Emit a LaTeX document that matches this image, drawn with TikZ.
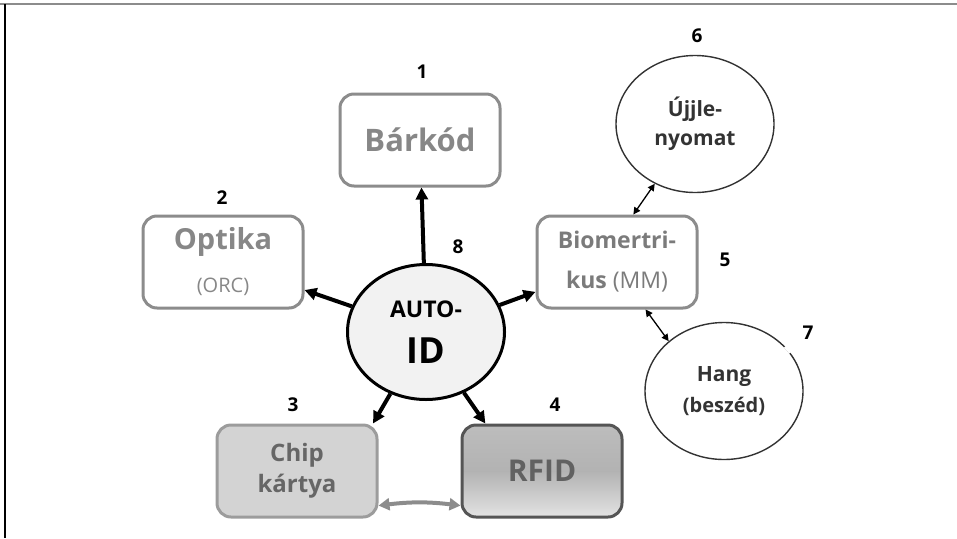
\documentclass[tikz,border=0pt]{standalone}
\usepackage{fontspec}
\setmainfont{Open Sans}
\usetikzlibrary{arrows.meta, shapes.geometric}
\definecolor{cbox}{HTML}{8C8C8C}
\definecolor{ctext}{HTML}{878787}
\definecolor{cbio}{HTML}{7B7B7B}
\definecolor{cchip}{HTML}{D3D3D3}
\definecolor{cchipline}{HTML}{9C9C9C}
\definecolor{cdark}{HTML}{333333}
\definecolor{cfid}{HTML}{555555}
\definecolor{ccore}{HTML}{F2F2F2}
\tikzset{
  every picture/.style={line width=1.2pt, x=1pt, y=-1pt},
  box/.style={draw=#1, rounded corners=14pt, align=center, line width=3pt, minimum width=160pt, minimum height=92pt, inner sep=2pt},
  box/.default=cbox,
  bubble/.style={ellipse, draw=cdark, line width=1.4pt, align=center, minimum width=158pt, minimum height=137pt, inner sep=0pt, text=cdark},
  arrow/.style={-{Triangle[length=12pt, width=12pt]}, line width=4pt},
  link/.style={{Triangle[length=7pt, width=7pt]}-{Triangle[length=7pt, width=7pt]}, line width=1.3pt},
  swap/.style={{Triangle[length=11pt, width=12pt]}-{Triangle[length=11pt, width=12pt]}, line width=4pt, draw=cbox},
  num/.style={font=\fontsize{19}{19}\selectfont\bfseries},
}

\begin{document}
\begin{tikzpicture}
  \useasboundingbox (0,0) rectangle (957,538);
  % frame
  \draw[cbox, line width=2.5pt] (0,4) -- (957,4);
  \draw[line width=1.4pt] (5,4) -- (5,538);
  % centre
  \node[ellipse, draw, fill=ccore, line width=3pt, minimum width=157pt, minimum height=135pt, align=center, inner sep=0pt, font=\fontsize{23}{46}\selectfont\bfseries] (auto) at (426,332) {AUTO-\\{\fontsize{36}{36}\selectfont ID}};
  % boxes
  \node[box, text=ctext, font=\fontsize{31}{36}\selectfont\bfseries] (bar) at (420,140) {Bárkód};
  \node[box, text=ctext, font=\fontsize{29}{43}\selectfont\bfseries] (opt) at (223,262) {Optika\\{\mdseries\fontsize{20}{20}\selectfont (ORC)}};
  \node[box, text=cbio, font=\fontsize{23}{40}\selectfont\bfseries] (bio) at (617,262) {Biomertri-\\kus {\mdseries (MM)}};
  \node[box=cchipline, fill=cchip, text=black!60, font=\fontsize{24}{31}\selectfont\bfseries] (chip) at (297,471) {Chip\\kártya};
  \node[box=cfid, top color=black!26, bottom color=black!11, middle color=black!30, text=black!62, font=\fontsize{30}{30}\selectfont\bfseries] (rfid) at (542,471) {RFID};
  % biometric subtypes
  \node[bubble, font=\fontsize{21}{29}\selectfont\bfseries] (fin) at (695,124) {Újjle-\\nyomat};
  \node[bubble, font=\fontsize{21}{31}\selectfont\bfseries] (hang) at (724,391) {Hang\\{\fontsize{20}{20}\selectfont (beszéd)}};
  \draw[white, line width=3pt] (hang.36) -- (hang.30);
  % numbers
  \node[num] (n1) at (422,72) {1};
  \node[num] (n2) at (222,198) {2};
  \node[num] (n3) at (293,405) {3};
  \node[num] (n4) at (555,405) {4};
  \node[num] (n5) at (725,260) {5};
  \node[num] (n6) at (697,36) {6};
  \node[num] (n7) at (808,333) {7};
  \node[num] (n8) at (458,247) {8};
  % arrows
  \draw[arrow] (auto) -- (bar);
  \draw[arrow] (auto) -- (opt);
  \draw[arrow] (auto) -- (bio);
  \draw[arrow] (auto.-120) -- (chip.32);
  \draw[arrow] (auto.-58) -- (rfid.140);
  \draw[link] (fin.-124) -- (bio.71);
  \draw[link] (bio.-59) -- (hang.138);
  \draw[swap] (chip.-23) to[bend left=7] (rfid.203);
\end{tikzpicture}
\end{document}
